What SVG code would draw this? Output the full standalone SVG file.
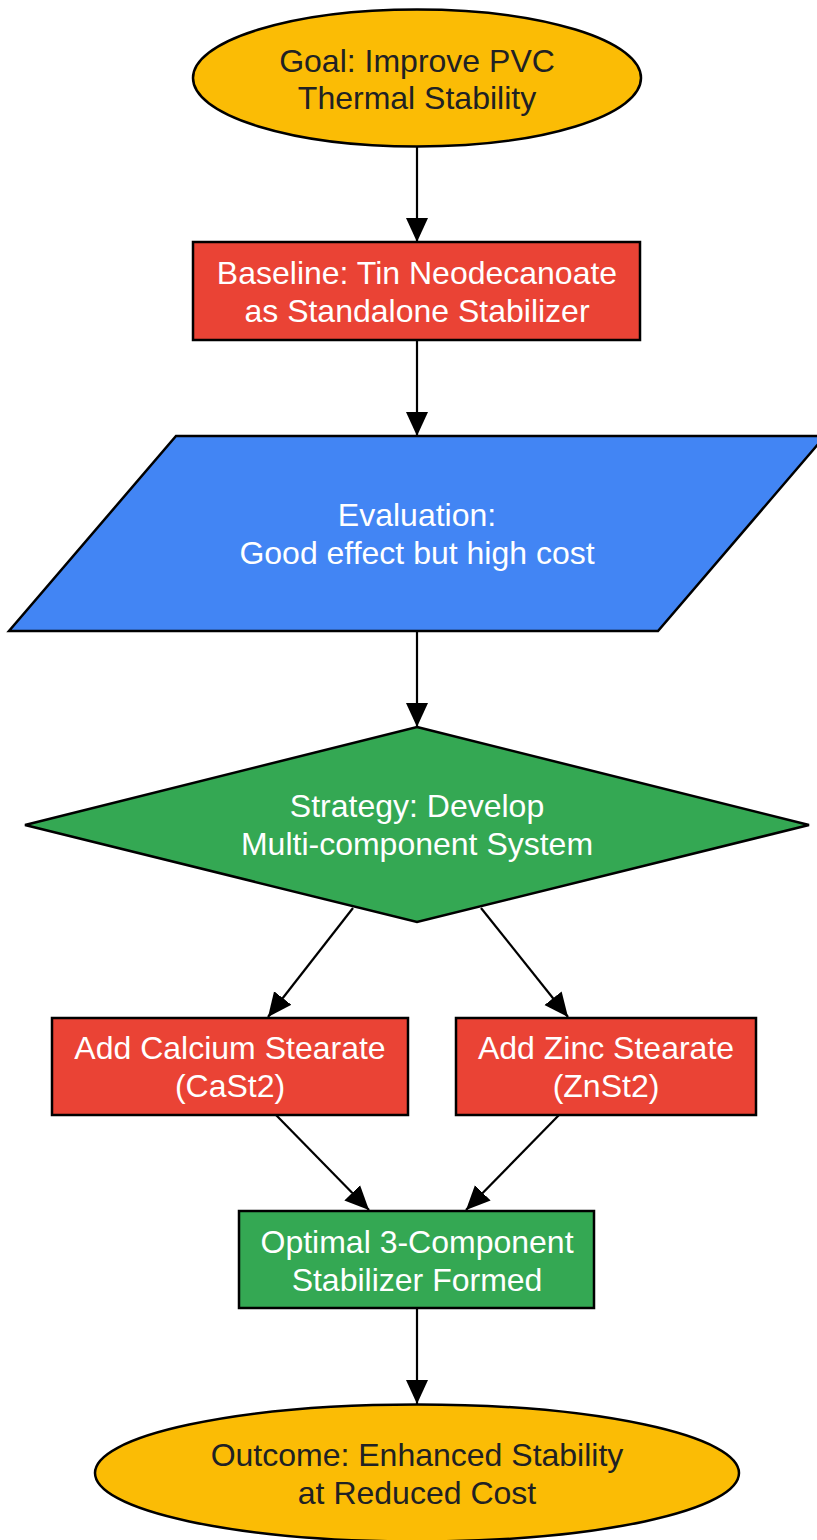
<svg xmlns="http://www.w3.org/2000/svg" width="817" height="1540" viewBox="0 0 817 1540">
<style>
.n{stroke:#000;stroke-width:2.5}
.y{fill:#FBBC05}.r{fill:#EA4335}.b{fill:#4285F4}.g{fill:#34A853}
text{font-family:"Liberation Sans",Arial,sans-serif;font-size:32px;text-anchor:middle}
.d{fill:#202124}.w{fill:#fff}
.e{stroke:#000;stroke-width:2.2;fill:none;marker-end:url(#ah)}
</style>
<defs>
<marker id="ah" viewBox="0 -12 24 24" refX="24" refY="0" markerWidth="24" markerHeight="24" markerUnits="userSpaceOnUse" orient="auto">
<path d="M0,-11 L24,0 L0,11 z" fill="#000"/>
</marker>
</defs>
<rect width="817" height="1540" fill="#fff"/>
<g id="connectors">
<line class="e" x1="417" y1="147" x2="417" y2="242"/>
<line class="e" x1="417" y1="340" x2="417" y2="436"/>
<line class="e" x1="417" y1="631" x2="417" y2="727"/>
<line class="e" x1="353" y1="908" x2="268" y2="1017"/>
<line class="e" x1="481" y1="908" x2="568" y2="1017"/>
<line class="e" x1="276" y1="1115" x2="369" y2="1210"/>
<line class="e" x1="559" y1="1115" x2="466" y2="1210"/>
<line class="e" x1="417" y1="1308" x2="417" y2="1404"/>
</g>
<g id="goal">
<ellipse class="n y" cx="417" cy="78" rx="224" ry="68.5"/>
<text class="d" x="417" y="72">Goal: Improve PVC</text>
<text class="d" x="417" y="109">Thermal Stability</text>
</g>
<g id="baseline">
<rect class="n r" x="193" y="242" width="447" height="98"/>
<text class="w" x="417" y="284">Baseline: Tin Neodecanoate</text>
<text class="w" x="417" y="322">as Standalone Stabilizer</text>
</g>
<g id="evaluation">
<polygon class="n b" points="176,436 825,436 658,631 9,631"/>
<text class="w" x="417" y="526">Evaluation:</text>
<text class="w" x="417" y="564">Good effect but high cost</text>
</g>
<g id="strategy">
<polygon class="n g" points="417,727 809,825 417,922 25,825"/>
<text class="w" x="417" y="817">Strategy: Develop</text>
<text class="w" x="417" y="855">Multi-component System</text>
</g>
<g id="calcium">
<rect class="n r" x="52" y="1018" width="356" height="97"/>
<text class="w" x="230" y="1059">Add Calcium Stearate</text>
<text class="w" x="230" y="1097">(CaSt2)</text>
</g>
<g id="zinc">
<rect class="n r" x="456" y="1018" width="300" height="97"/>
<text class="w" x="606" y="1059">Add Zinc Stearate</text>
<text class="w" x="606" y="1097">(ZnSt2)</text>
</g>
<g id="optimal">
<rect class="n g" x="239" y="1211" width="355" height="97"/>
<text class="w" x="417" y="1253">Optimal 3-Component</text>
<text class="w" x="417" y="1291">Stabilizer Formed</text>
</g>
<g id="outcome">
<ellipse class="n y" cx="417" cy="1473" rx="322" ry="68.5"/>
<text class="d" x="417" y="1466">Outcome: Enhanced Stability</text>
<text class="d" x="417" y="1504">at Reduced Cost</text>
</g>
</svg>
